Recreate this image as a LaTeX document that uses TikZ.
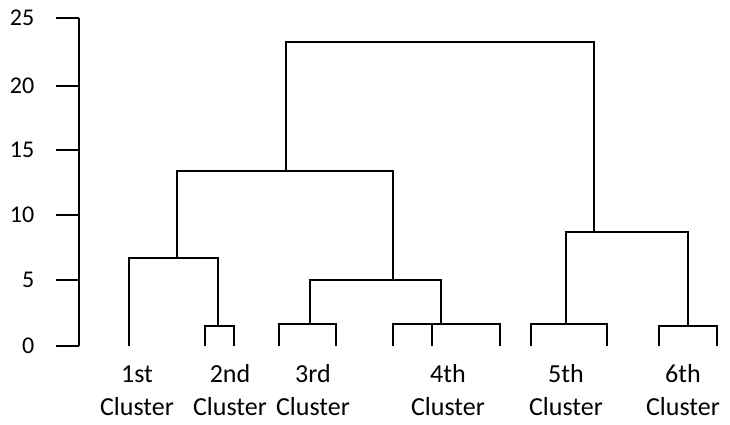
\documentclass[tikz,border=0pt]{standalone}
\usepackage{fontspec}
\setmainfont{Carlito}
\begin{document}
\begin{tikzpicture}[x=1pt,y=-1pt,
  ln/.style={line width=2.3pt, line join=miter},
  lab/.style={anchor=base, inner sep=0pt, font=\fontsize{26}{30}\selectfont},
  tick/.style={anchor=east, inner sep=0pt, font=\fontsize{24}{28}\selectfont}]
\useasboundingbox (0,0) rectangle (730,424);
% axis
\coordinate (ax0) at (79,346);
\coordinate (ax25) at (79,18);
\draw[ln] (ax25) -- (ax0);
\foreach \v/\y in {0/346,5/280,10/215,15/150,20/86,25/18}{
  \coordinate (t\v) at (79,\y);
  \coordinate (s\v) at (56,\y);
  \draw[ln] (s\v) -- (t\v);
  \node[tick] (tl\v) at (34.5,\y) {\v};
}
% leaves
\coordinate (L1) at (129,346);
\coordinate (L2a) at (205,346); \coordinate (L2b) at (234,346);
\coordinate (L3a) at (279,346); \coordinate (L3b) at (336,346);
\coordinate (L4a) at (393,346); \coordinate (L4b) at (432,346); \coordinate (L4c) at (500,346);
\coordinate (L5a) at (531,346); \coordinate (L5b) at (607,346);
\coordinate (L6a) at (659,346); \coordinate (L6b) at (717,346);
% junctions
\coordinate (J2) at (218,326);
\coordinate (J12) at (177,258);
\coordinate (J3) at (310,324);
\coordinate (J4) at (441,324);
\coordinate (J34) at (393,280);
\coordinate (J1234) at (286,171);
\coordinate (J5) at (566,324);
\coordinate (J6) at (688,326);
\coordinate (J56) at (594,232);
\coordinate (Jtop) at (440,42);
% cluster 2
\draw[ln] (L2a) |- (J2) -| (L2b);
\draw[ln] (L1) |- (J12) -| (J2);
% cluster 3
\draw[ln] (L3a) |- (J3) -| (L3b);
% cluster 4
\draw[ln] (L4a) |- (J4) -| (L4c);
\draw[ln] (L4b) -- (L4b |- J4);
% merge 3-4
\draw[ln] (J3) |- (J34) -| (J4);
% merge 12-34
\draw[ln] (J12) |- (J1234) -| (J34);
% cluster 5, 6
\draw[ln] (L5a) |- (J5) -| (L5b);
\draw[ln] (L6a) |- (J6) -| (L6b);
\draw[ln] (J5) |- (J56) -| (J6);
% top
\draw[ln] (J1234) |- (Jtop) -| (J56);
% labels
\node[lab] (a1) at (137,382) {1st};   \node[lab] (b1) at (137,415) {Cluster};
\node[lab] (a2) at (230,382) {2nd};   \node[lab] (b2) at (230,415) {Cluster};
\node[lab] (a3) at (313,382) {3rd};   \node[lab] (b3) at (313,415) {Cluster};
\node[lab] (a4) at (448,382) {4th};   \node[lab] (b4) at (448,415) {Cluster};
\node[lab] (a5) at (566,382) {5th};   \node[lab] (b5) at (566,415) {Cluster};
\node[lab] (a6) at (683,382) {6th};   \node[lab] (b6) at (683,415) {Cluster};
\end{tikzpicture}
\end{document}
